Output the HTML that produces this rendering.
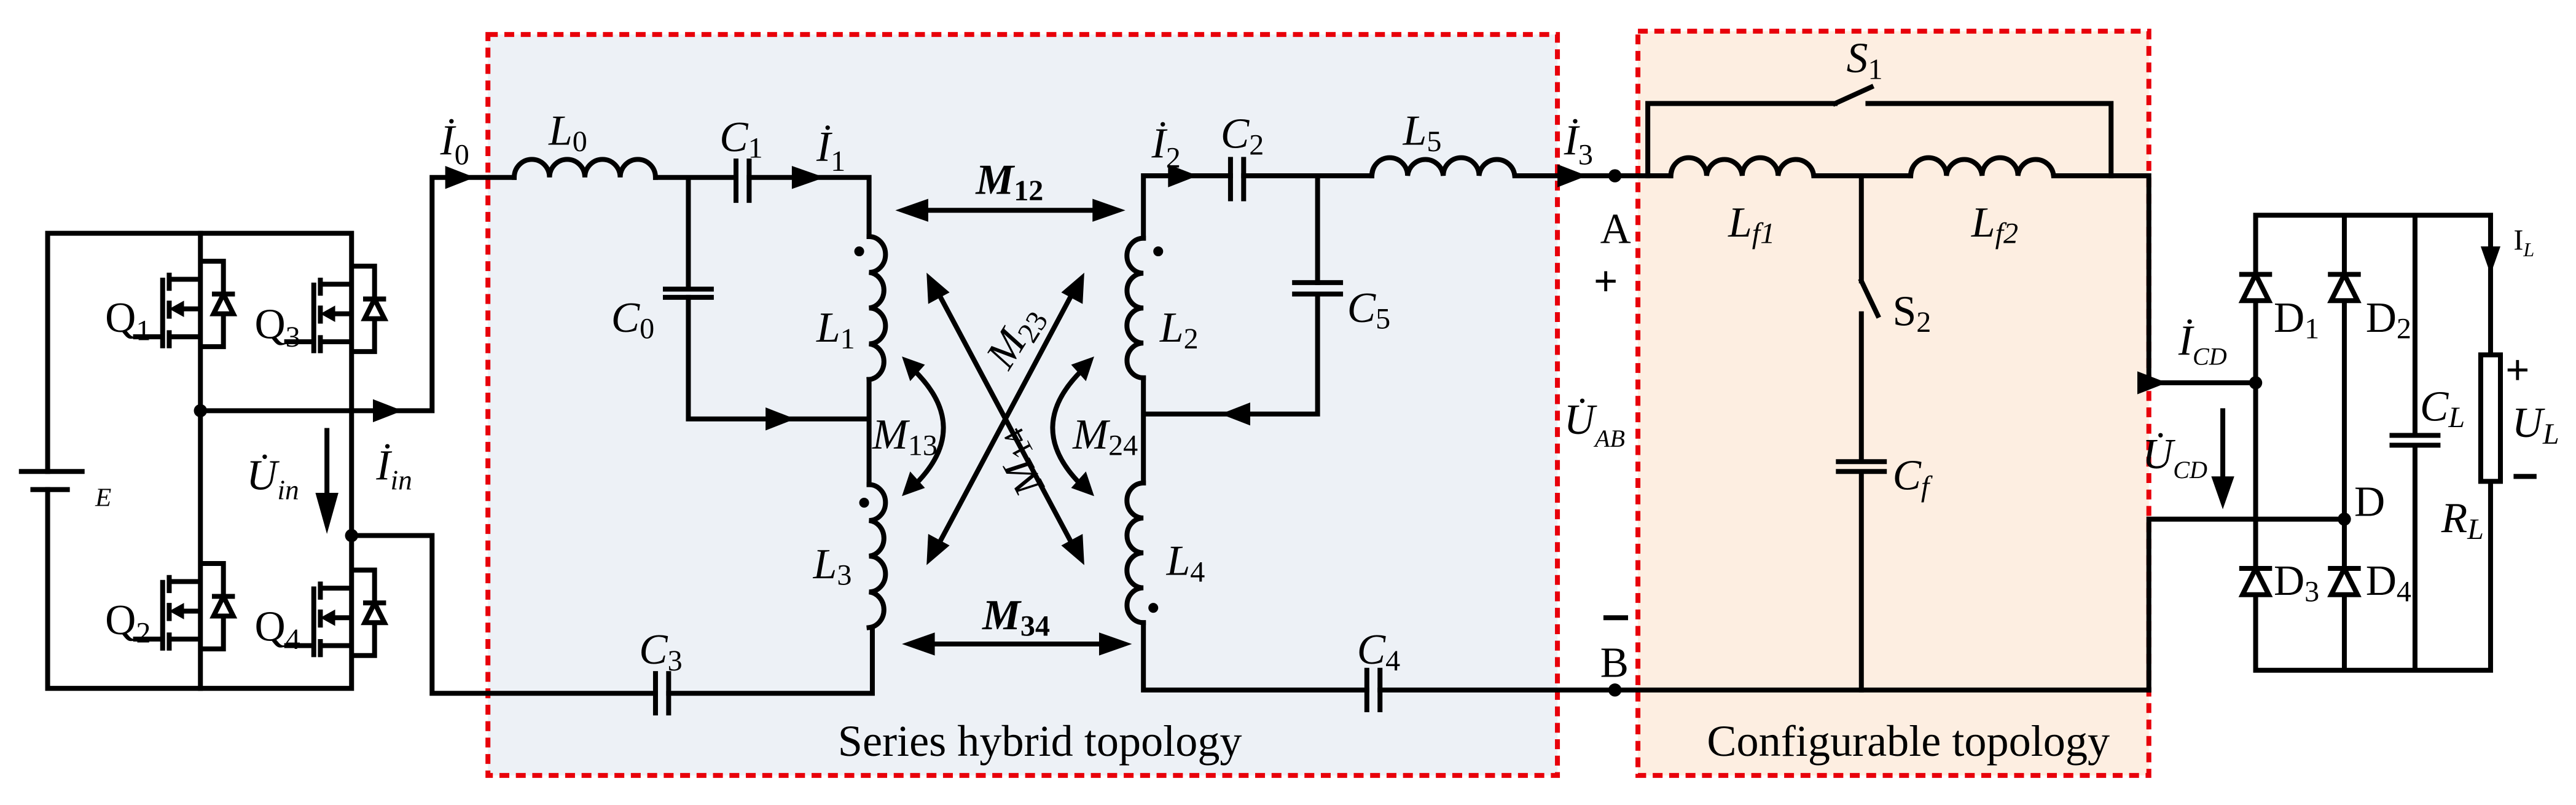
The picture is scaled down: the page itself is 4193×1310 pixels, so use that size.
<!DOCTYPE html>
<html><head><meta charset="utf-8"><style>
html,body{margin:0;padding:0;background:#fff}
svg{display:block}
text{font-family:"Liberation Serif",serif;fill:#000}
.i{font-style:italic}
</style></head><body>
<svg width="4193" height="1310" viewBox="0 0 1568 490" preserveAspectRatio="none" xmlns="http://www.w3.org/2000/svg">
<defs>
<g id="q" fill="none" stroke="#000" stroke-width="3">
<path d="M0,0 H14 V52 H0 M-19,11 H0 M-19,46 H0 M-41,46 H-23 M-23,10 V53 M-19,7 V18 M-19,24 V35 M-19,42 V53 M-12,29 H0 M7,20 H21"/>
<polygon points="14,20 8,32 20,32" fill="#fff"/>
<polygon points="-19,29 -10,24 -10,34" fill="#000" stroke="none"/>
</g>
<g id="d" stroke="#000" stroke-width="3">
<polygon points="0,0 -8,16 8,16" fill="#fff"/>
<path d="M-10,0 H10"/>
</g>
</defs>
<rect x="297" y="21" width="651" height="451" fill="#edf1f6" stroke="#e8000a" stroke-width="3" stroke-dasharray="6,4"/>
<rect x="997" y="19" width="311" height="453" fill="#fdeee1" stroke="#e8000a" stroke-width="3" stroke-dasharray="6,4"/>

<g fill="none" stroke="#000" stroke-width="3" stroke-linecap="square">
<path d="M29,287 V142 H214 V419 H29 V298"/>
<path d="M122,142 V419"/>
<path d="M13,287 H50 M20,298 H41" />
<path d="M122,250 H263 V108 H313 M214,326 H263 V422 H399 M407,422 H531 V382"/>
<path d="M313,108 A10.75,11 0 0 1 334.5,108 A10.75,11 0 0 1 356,108 A10.75,11 0 0 1 377.5,108 A10.75,11 0 0 1 399,108"/>
<path d="M399,108 H448 M456,108 H529 V144 M419,108 V176 M419,181 V255 H529 V295 M529,231 V295"/>
<path d="M448,98 V122 M456,98 V122 M405,176 H433 M405,181 H433 M399,410 V434 M407,410 V434"/>
<path d="M529,144 A10,10.9 0 0 1 529,165.8 A10,10.9 0 0 1 529,187.5 A10,10.9 0 0 1 529,209.3 A10,10.9 0 0 1 529,231"/>
<path d="M529,295 A10,10.9 0 0 1 529,316.8 A10,10.9 0 0 1 529,338.5 A10,10.9 0 0 1 529,360.3 A10,10.9 0 0 1 529,382"/>
<path d="M696,145 A10,10.6 0 0 0 696,166.3 A10,10.6 0 0 0 696,187.5 A10,10.6 0 0 0 696,208.8 A10,10.6 0 0 0 696,230"/>
<path d="M696,294 A10,10.6 0 0 0 696,315.3 A10,10.6 0 0 0 696,336.5 A10,10.6 0 0 0 696,357.8 A10,10.6 0 0 0 696,379"/>
<path d="M696,145 V107 H749 M757,107 H835 M696,230 V294 M696,252 H802 V179 M802,172 V107 M696,379 V420 H832 M840,420 H1308"/>
<path d="M749,97 V121 M757,97 V121 M788,172 H816 M788,179 H816 M832,408 V432 M840,408 V432"/>
<path d="M835,107 A10.9,11 0 0 1 856.8,107 A10.9,11 0 0 1 878.5,107 A10.9,11 0 0 1 900.3,107 A10.9,11 0 0 1 922,107 H1017"/>
<path d="M1003,107 V63 H1117 M1137,63 H1285 V107 M1117,63 L1139,53"/>
<path d="M1017,107 A10.9,11 0 0 1 1038.8,107 A10.9,11 0 0 1 1060.5,107 A10.9,11 0 0 1 1082.3,107 A10.9,11 0 0 1 1104,107 H1163"/>
<path d="M1163,107 A10.9,11 0 0 1 1184.8,107 A10.9,11 0 0 1 1206.5,107 A10.9,11 0 0 1 1228.3,107 A10.9,11 0 0 1 1250,107 H1308 V233 H1373"/>
<path d="M1133,107 V171 M1133,171 L1143,192 M1133,191 V281 M1133,287 V420 M1119,281 H1147 M1119,287 H1147 M1308,420 V316 H1427"/>
<path d="M1373,131 H1516 V216 M1516,293 V408 H1373 V131 M1427,131 V408 M1470,131 V265 M1470,271 V408 M1456,265 H1484 M1456,271 H1484"/>
<rect x="1510" y="216" width="12" height="77" fill="#fff"/>
<path d="M1353,250 V295 M199,262 V305"/>
<path d="M560,128 H670 M563,392 H674 M572,180 L652,330 M652,180 L572,330"/>
<path d="M556,225 Q592,260 557,295 M659,225 Q623,260 658,295"/>
</g>
<use href="#q" transform="translate(122,159)"/>
<use href="#q" transform="translate(214,162)"/>
<use href="#q" transform="translate(122,343)"/>
<use href="#q" transform="translate(214,347)"/>
<use href="#d" transform="translate(1373,167)"/>
<use href="#d" transform="translate(1427,167)"/>
<use href="#d" transform="translate(1373,346)"/>
<use href="#d" transform="translate(1427,346)"/>
<g fill="#000">
<circle cx="122" cy="250" r="4"/><circle cx="214" cy="326" r="4"/>
<circle cx="983" cy="107" r="4"/><circle cx="983" cy="420" r="4"/>
<circle cx="1373" cy="233" r="4"/><circle cx="1427" cy="316" r="4"/>
<circle cx="523" cy="153" r="3"/><circle cx="526" cy="306" r="3"/>
<circle cx="705" cy="153" r="3"/><circle cx="702" cy="370" r="3"/>
<polygon points="227,243 245,250 227,257"/>
<polygon points="271,101 289,108 271,115"/>
<polygon points="482,101 502,108 482,115"/>
<polygon points="466,248 484,255 466,262"/>
<polygon points="711,100 729,107 711,114"/>
<polygon points="761,245 743,252 761,259"/>
<polygon points="948,100 966,107 948,114"/>
<polygon points="1301,226 1319,233 1301,240"/>
<polygon points="192,300 199,325 206,300"/>
<polygon points="1346,290 1353,310 1360,290"/>
<polygon points="1510,150 1516,167 1522,150"/>
<polygon points="545,128 565,121 565,135"/><polygon points="685,128 665,121 665,135"/>
<polygon points="549,392 569,385 569,399"/><polygon points="689,392 669,385 669,399"/>
<polygon points="564,166 565,185 578,178"/><polygon points="660,344 646,332 659,325"/>
<polygon points="660,166 659,185 646,178"/><polygon points="564,344 565,325 578,332"/>
<polygon points="549,217 554,232 563,222"/><polygon points="549,302 554,287 563,297"/>
<polygon points="666,217 661,232 652,222"/><polygon points="666,302 661,287 652,297"/>
</g>
<g font-size="26">
<text x="58" y="308" class="i" font-size="16">E</text>
<text x="64" y="202">Q<tspan font-size="18" dy="5">1</tspan></text>
<text x="155" y="206">Q<tspan font-size="18" dy="5">3</tspan></text>
<text x="64" y="386">Q<tspan font-size="18" dy="5">2</tspan></text>
<text x="155" y="390">Q<tspan font-size="18" dy="5">4</tspan></text>
<text x="150" y="298" class="i">U̇<tspan font-size="17" dy="6">in</tspan></text>
<text x="229" y="292" class="i">İ<tspan font-size="17" dy="6">in</tspan></text>
<text x="268" y="94" class="i">İ<tspan font-size="18" dy="6" font-style="normal">0</tspan></text>
<text x="334" y="88" class="i">L<tspan font-size="18" dy="4" font-style="normal">0</tspan></text>
<text x="438" y="92" class="i">C<tspan font-size="18" dy="4" font-style="normal">1</tspan></text>
<text x="497" y="98" class="i">İ<tspan font-size="18" dy="6" font-style="normal">1</tspan></text>
<text x="372" y="202" class="i">C<tspan font-size="18" dy="4" font-style="normal">0</tspan></text>
<text x="497" y="208" class="i">L<tspan font-size="18" dy="4" font-style="normal">1</tspan></text>
<text x="495" y="352" class="i">L<tspan font-size="18" dy="4" font-style="normal">3</tspan></text>
<text x="389" y="404" class="i">C<tspan font-size="18" dy="4" font-style="normal">3</tspan></text>
<text x="531" y="273" class="i">M<tspan font-size="18" dy="4" font-style="normal">13</tspan></text>
<text x="653" y="273" class="i">M<tspan font-size="18" dy="4" font-style="normal">24</tspan></text>
<text x="594" y="118" class="i" font-weight="bold">M<tspan font-size="18" dy="4" font-style="normal">12</tspan></text>
<text x="598" y="383" class="i" font-weight="bold">M<tspan font-size="18" dy="4" font-style="normal">34</tspan></text>
<text class="i" transform="translate(614,226) rotate(-58)">M<tspan font-size="18" dy="4" font-style="normal">23</tspan></text>
<text class="i" transform="translate(636,296) rotate(242)">M<tspan font-size="18" dy="4" font-style="normal">14</tspan></text>
<text x="701" y="96" class="i">İ<tspan font-size="18" dy="6" font-style="normal">2</tspan></text>
<text x="743" y="90" class="i">C<tspan font-size="18" dy="4" font-style="normal">2</tspan></text>
<text x="706" y="208" class="i">L<tspan font-size="18" dy="4" font-style="normal">2</tspan></text>
<text x="820" y="196" class="i">C<tspan font-size="18" dy="4" font-style="normal">5</tspan></text>
<text x="710" y="350" class="i">L<tspan font-size="18" dy="4" font-style="normal">4</tspan></text>
<text x="826" y="404" class="i">C<tspan font-size="18" dy="4" font-style="normal">4</tspan></text>
<text x="854" y="88" class="i">L<tspan font-size="18" dy="4" font-style="normal">5</tspan></text>
<text x="952" y="94" class="i">İ<tspan font-size="18" dy="6" font-style="normal">3</tspan></text>
<text x="974" y="148">A</text>
<text x="974" y="412">B</text>
<text x="970" y="180" font-family="Liberation Sans" font-weight="bold">+</text>
<path d="M976,376 H991" stroke="#000" stroke-width="3"/>
<text x="952" y="264" class="i">U̇<tspan font-size="15" dy="8">AB</tspan></text>
<text x="510" y="460" font-size="27">Series hybrid topology</text>
<text x="1039" y="460" font-size="27">Configurable topology</text>
<text x="1124" y="44" class="i">S<tspan font-size="18" dy="4" font-style="normal">1</tspan></text>
<text x="1052" y="144" class="i">L<tspan font-size="18" dy="4">f1</tspan></text>
<text x="1200" y="144" class="i">L<tspan font-size="18" dy="4">f2</tspan></text>
<text x="1152" y="198">S<tspan font-size="18" dy="4">2</tspan></text>
<text x="1152" y="298" class="i">C<tspan font-size="18" dy="4">f</tspan></text>
<text x="1326" y="216" class="i">İ<tspan font-size="15" dy="6">CD</tspan></text>
<text x="1304" y="285" class="i">U̇<tspan font-size="15" dy="6">CD</tspan></text>
<text x="1384" y="202">D<tspan font-size="18" dy="4">1</tspan></text>
<text x="1440" y="202">D<tspan font-size="18" dy="4">2</tspan></text>
<text x="1384" y="362">D<tspan font-size="18" dy="4">3</tspan></text>
<text x="1440" y="362">D<tspan font-size="18" dy="4">4</tspan></text>
<text x="1433" y="314">D</text>
<text x="1473" y="256" class="i">C<tspan font-size="18" dy="4">L</tspan></text>
<text x="1530" y="152" font-size="18">I<tspan font-size="12" dy="4" font-style="italic">L</tspan></text>
<text x="1529" y="266" class="i">U<tspan font-size="18" dy="4">L</tspan></text>
<text x="1486" y="324" class="i">R<tspan font-size="18" dy="4">L</tspan></text>
<text x="1525" y="234" font-family="Liberation Sans" font-weight="bold">+</text>
<path d="M1530,290 H1544" stroke="#000" stroke-width="3"/>
</g>
</svg>
</body></html>
